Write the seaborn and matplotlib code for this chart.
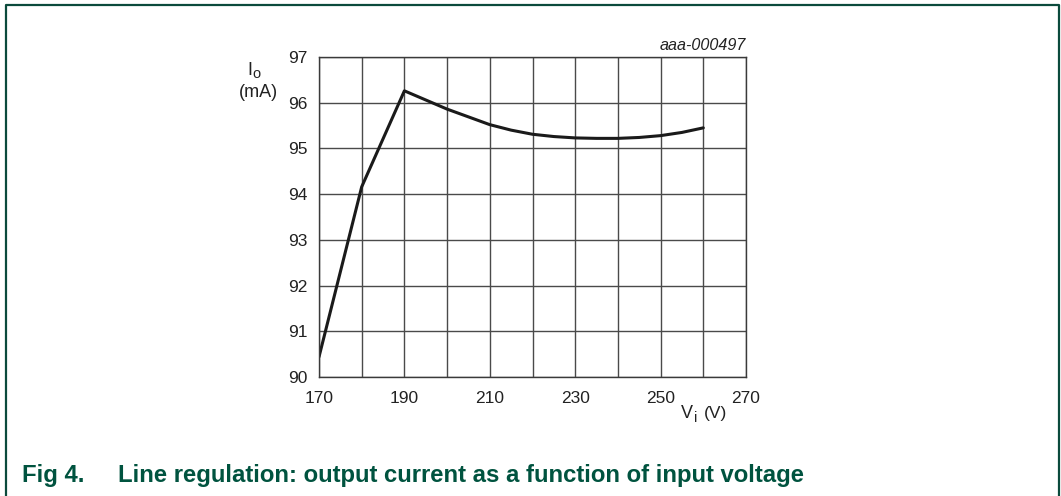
"""Line regulation chart: output current vs input voltage."""

import matplotlib
matplotlib.use("Agg")
import matplotlib.pyplot as plt
import pandas as pd
import seaborn as sns

# values
input_voltage = [170, 180, 190, 200, 210, 215, 220, 225, 230, 235, 240, 245, 250, 255, 260]
output_current = [90.44, 94.16, 96.26, 95.86, 95.52, 95.40, 95.31, 95.26, 95.23, 95.22,
                  95.22, 95.24, 95.28, 95.35, 95.45]
x_ticks = [170, 190, 210, 230, 250, 270]
y_ticks = [90, 91, 92, 93, 94, 95, 96, 97]

caption_num = "Fig 4."
caption_text = "Line regulation: output current as a function of input voltage"
figure_code = "aaa-000497"

sns.set_theme(style="white")
plt.rcParams["font.family"] = ["Liberation Sans", "DejaVu Sans"]

df = pd.DataFrame({"vi": input_voltage, "io": output_current})

W, H = 1061, 496
fig = plt.figure(figsize=(W / 100, H / 100), dpi=100)
ax = fig.add_axes([319 / W, 119 / H, 427 / W, 320 / H])

sns.lineplot(data=df, x="vi", y="io", sort=False, color="#1a1a1a", linewidth=2.2, ax=ax)

ax.set_xlim(170, 270)
ax.set_ylim(90, 97)
ax.set_xticks(range(170, 271, 10))
ax.set_xticklabels([str(v) if v in x_ticks else "" for v in range(170, 271, 10)])
ax.set_yticks(y_ticks)
ax.set_yticklabels([str(v) for v in y_ticks])
ax.grid(True, color="#4a4a4a", linewidth=1.0)
ax.set_axisbelow(True)
ax.tick_params(axis="both", length=0, labelsize=12.5, colors="#222222")
ax.tick_params(axis="x", pad=10)
ax.tick_params(axis="y", pad=8.5)
for spine in ax.spines.values():
    spine.set_color("#3a3a3a")
    spine.set_linewidth(1.0)
ax.set_xlabel("")
ax.set_ylabel("")


def px_text(x, y, s, **kw):
    """Place text using pixel coordinates measured from the top-left corner."""
    return fig.text(x / W, 1 - y / H, s, **kw)


label_kw = dict(color="#222222", va="baseline")
# y axis label: I with subscript o, then (mA)
px_text(247, 75, "I", ha="left", fontsize=13, **label_kw)
px_text(252.5, 77.5, "o", ha="left", fontsize=10.5, **label_kw)
px_text(278, 97, "(mA)", ha="right", fontsize=13, **label_kw)
# x axis label: V with subscript i, then (V)
px_text(681, 418, "V", ha="left", fontsize=13, **label_kw)
px_text(694, 421.5, "i", ha="left", fontsize=10.5, **label_kw)
px_text(703.5, 418, "(V)", ha="left", fontsize=12.5, **label_kw)

px_text(746, 46, figure_code, ha="right", va="center", fontsize=11.6,
        style="italic", color="#222222")

teal = "#00533f"
px_text(22, 482, caption_num, ha="left", va="baseline", fontsize=17.2,
        fontweight="bold", color=teal)
px_text(118, 482, caption_text, ha="left", va="baseline", fontsize=17.2,
        fontweight="bold", color=teal)

# open-bottom frame around the figure
frame_x = [5.5 / W, 5.5 / W, 1058.5 / W, 1058.5 / W]
frame_y = [0, 1 - 4.5 / H, 1 - 4.5 / H, 0]
fig.add_artist(plt.Line2D(frame_x, frame_y, transform=fig.transFigure, color="#0b4a3c", linewidth=1.6))

fig.savefig("out.png", dpi=100)
